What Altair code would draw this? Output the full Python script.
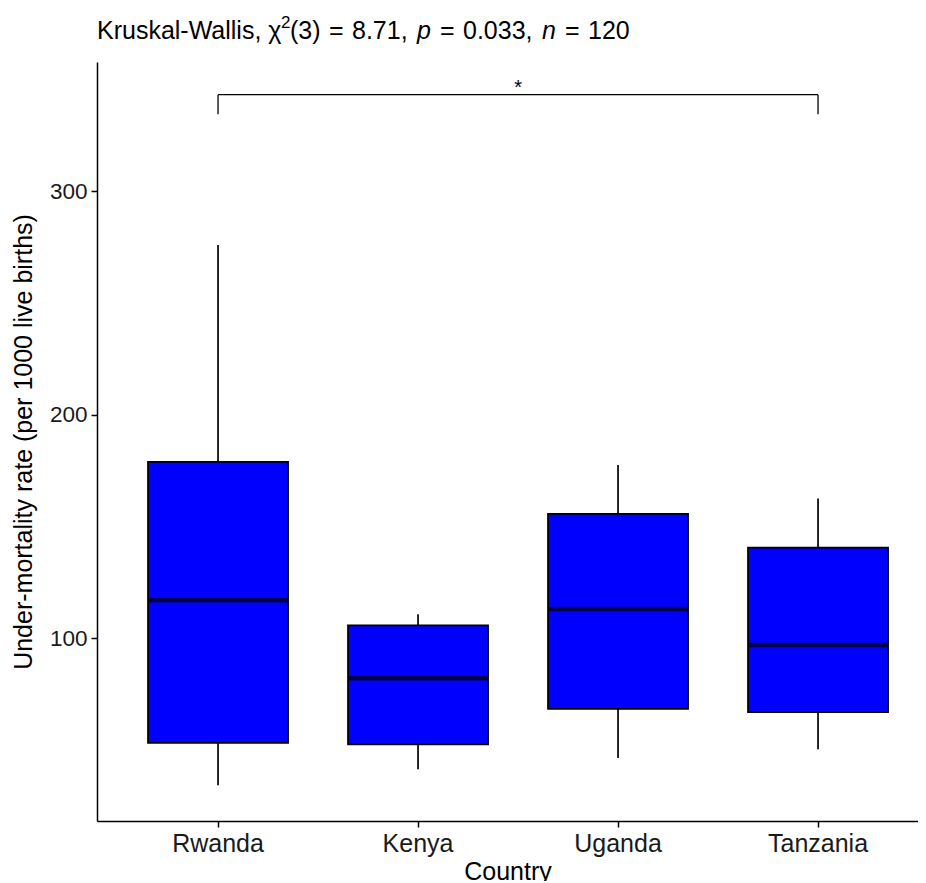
import altair as alt
import pandas as pd

countries = ["Rwanda", "Kenya", "Uganda", "Tanzania"]
lower_whisker = [34.3, 41.5, 46.5, 50.4]
q1 = [53.3, 52.6, 68.5, 67.0]
median = [117.1, 82.2, 113.1, 97.0]
q3 = [179.0, 105.8, 155.7, 140.6]
upper_whisker = [276.0, 110.8, 177.6, 162.6]

bracket_from = ["Rwanda", "Rwanda", "Tanzania"]
bracket_to = ["Tanzania", "Rwanda", "Tanzania"]
bracket_low = [343.3, 334.5, 334.5]
bracket_high = [343.3, 343.3, 343.3]
sig_label = ["*"]
sig_anchor = ["Kenya"]
sig_y = [343.3]

y_ticks = [100, 200, 300]

FONT = "Liberation Sans"

df = pd.DataFrame({
    "country": countries, "lo": lower_whisker, "q1": q1,
    "med": median, "q3": q3, "hi": upper_whisker,
})
br = pd.DataFrame({"a": bracket_from, "b": bracket_to, "y1": bracket_low, "y2": bracket_high})
sig = pd.DataFrame({"country": sig_anchor, "y": sig_y, "t": sig_label})

xscale = alt.Scale(domain=countries, paddingInner=0.3, paddingOuter=0.2025, align=0.63)
yscale = alt.Scale(domain=[18.3, 357.9], nice=False, zero=False)

x_axis = alt.Axis(title="Country", labelAngle=0, labelPadding=4, titlePadding=3,
                  labelFontSize=25, titleFontSize=25)
y_axis = alt.Axis(title="Under-mortality rate (per 1000 live births)", values=y_ticks,
                  labelPadding=4, titlePadding=13, labelFontSize=22.5, titleFontSize=25)

X = alt.X("country:N", scale=xscale, sort=countries, axis=x_axis)

def Y(field):
    return alt.Y(field, scale=yscale, axis=y_axis)

base = alt.Chart(df)
whisker = base.mark_rule(color="black", strokeWidth=1.7).encode(x=X, y=Y("lo:Q"), y2="hi:Q")
box = base.mark_bar(fill="#0000ff", stroke="black", strokeWidth=1.8).encode(x=X, y=Y("q1:Q"), y2="q3:Q")
med = base.mark_tick(color="black", thickness=4.5, size=140).encode(x=X, y=Y("med:Q"))

bracket = alt.Chart(br).mark_rule(color="black", strokeWidth=1.3).encode(
    x=alt.X("a:N", scale=xscale, sort=countries, axis=x_axis),
    x2="b:N",
    y=Y("y1:Q"), y2="y2:Q",
)
star = alt.Chart(sig).mark_text(font=FONT, fontSize=20, dx=100, dy=-1, baseline="alphabetic",
                                color="black").encode(
    x=alt.X("country:N", scale=xscale, sort=countries, axis=x_axis),
    y=Y("y:Q"), text="t:N",
)

def piece(txt, px, py, size=25, style="normal"):
    return alt.Chart(pd.DataFrame({"t": [txt]})).mark_text(
        font=FONT, fontSize=size, fontStyle=style, align="left", baseline="alphabetic", color="black"
    ).encode(x=alt.value(px), y=alt.value(py), text="t:N")

TY = -23
title_layers = [
    piece("Kruskal-Wallis, \u03c7", 0, TY),
    piece("2", 184, TY - 11, size=17),
    piece("(3)", 193, TY),
    piece("=", 232, TY),
    piece("8.71,", 255, TY),
    piece("p", 320, TY, style="italic"),
    piece("=", 343, TY),
    piece("0.033,", 366, TY),
    piece("n", 445, TY, style="italic"),
    piece("=", 468, TY),
    piece("120", 491, TY),
]

chart = alt.layer(whisker, box, med, bracket, star, *title_layers).properties(
    width=821, height=759,
    autosize=alt.AutoSizeParams(type="none"),
    padding={"left": 89, "top": 54, "right": 0, "bottom": 60},
).configure_view(stroke=None).configure_axis(
    domainColor="black", domainWidth=1.5, tickColor="black", tickWidth=1.5, tickSize=6,
    labelFont=FONT, labelColor="#1a1a1a",
    titleFont=FONT, titleFontWeight="normal", titleColor="black",
    grid=False,
)

chart.save("out.html", embed_options={"renderer": "svg", "actions": False})
